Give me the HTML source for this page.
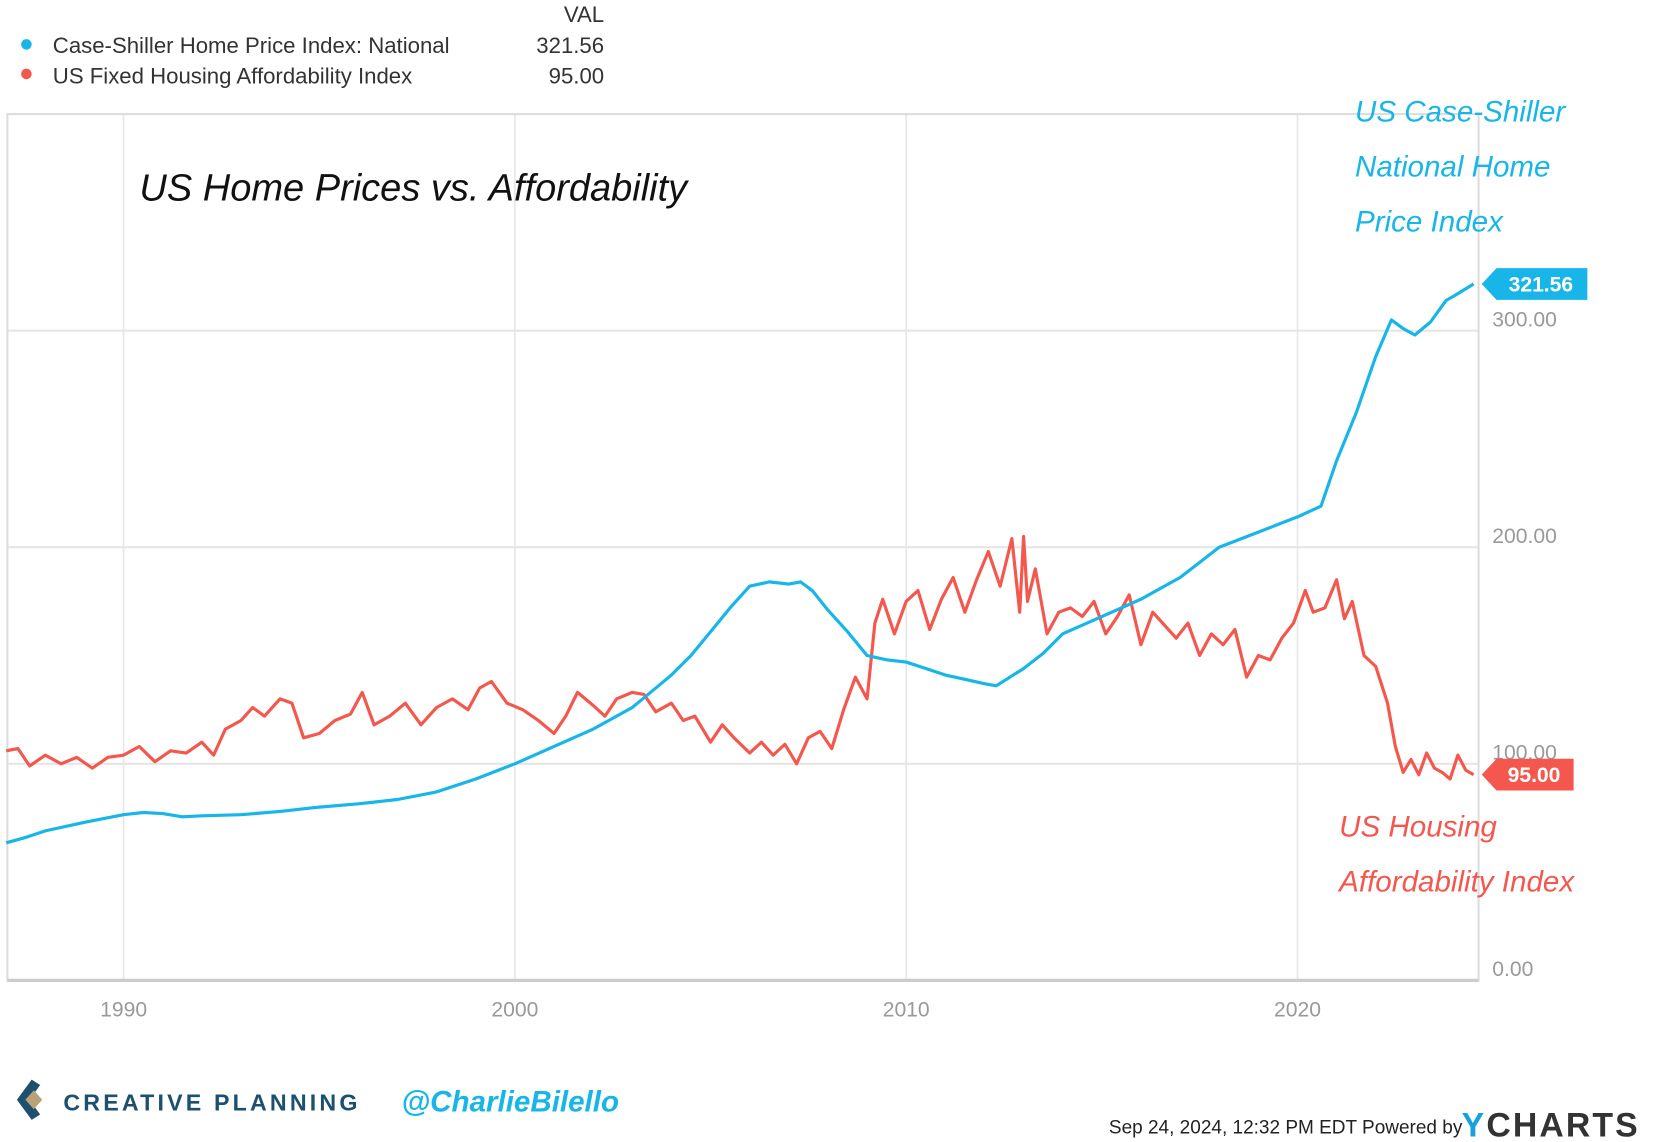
<!DOCTYPE html>
<html><head><meta charset="utf-8">
<style>
html,body{margin:0;padding:0;background:#fff;}
svg{display:block;}
.lg{font-family:"Liberation Sans Narrow","Liberation Sans",sans-serif;font-size:21px;fill:#333;}
.ax{font-family:"Liberation Sans Narrow","Liberation Sans",sans-serif;font-size:20px;fill:#999;}
.hand{font-family:"Liberation Sans",sans-serif;font-style:italic;}
</style></head>
<body>
<svg id="chart" width="1656" height="1142" viewBox="0 0 1568 1081" preserveAspectRatio="none" xmlns="http://www.w3.org/2000/svg">
<rect width="1568" height="1081" fill="#fff"/>
<g>
<text class="lg" x="572" y="21" text-anchor="end">VAL</text>
<circle cx="25" cy="42" r="5" fill="#17b5e8"/>
<text class="lg" x="50" y="50">Case-Shiller Home Price Index: National</text>
<text class="lg" x="572" y="50" text-anchor="end">321.56</text>
<circle cx="25" cy="70" r="5" fill="#f4574d"/>
<text class="lg" x="50" y="79">US Fixed Housing Affordability Index</text>
<text class="lg" x="572" y="79" text-anchor="end">95.00</text>
</g>
<g id="grid"></g>
<rect x="7" y="108" width="1393" height="820" fill="none" stroke="#ddd" stroke-width="2"/>
<line x1="7" y1="928" x2="1400" y2="928" stroke="#ccc" stroke-width="3"/>
<g id="axes"></g>
<g id="series"></g>
<text class="hand" x="132" y="190" font-size="36" fill="#111">US Home Prices vs. Affordability</text>
<g class="hand" font-size="28" fill="#17b5e8">
<text x="1283" y="115">US Case-Shiller</text>
<text x="1283" y="167">National Home</text>
<text x="1283" y="219">Price Index</text>
</g>
<g class="hand" font-size="28" fill="#f4574d">
<text x="1268" y="792">US Housing</text>
<text x="1268" y="844">Affordability Index</text>
</g>
<g>
<path d="M30 1022 L16 1041 L30 1060 L38 1055 L28 1041 L38 1027 Z" fill="#1d4f6e"/>
<path d="M32 1032 L40 1041 L32 1050 L24 1041 Z" fill="#b8a278"/>
<text x="60" y="1051" font-family="Liberation Sans,sans-serif" font-weight="bold" font-size="22" letter-spacing="3" fill="#1d4f6e">CREATIVE PLANNING</text>
<text x="380" y="1052" class="hand" font-weight="bold" font-size="28" fill="#17b5e8">@CharlieBilello</text>
<text x="1050" y="1073" font-family="Liberation Sans Narrow,Liberation Sans,sans-serif" font-size="18" fill="#222">Sep 24, 2024, 12:32 PM EDT Powered by</text>
<text x="1384" y="1076" font-family="Liberation Sans,sans-serif" font-weight="bold" font-size="32" fill="#333" letter-spacing="2"><tspan fill="#17a0e0">Y</tspan>CHARTS</text>
</g>
</svg>
<script>
const yTicks=[0,100,200,300];
const xYears=[1990,2000,2010,2020];
const csYears=[1987,1987.5,1988,1989,1990,1990.5,1991,1991.5,1992,1993,1994,1995,1996,1997,1998,1999,2000,2001,2002,2003,2004,2004.5,2005,2005.5,2006,2006.5,2007,2007.3,2007.6,2008,2008.5,2009,2009.5,2010,2010.5,2011,2011.5,2012,2012.3,2013,2013.5,2014,2015,2016,2017,2018,2019,2020,2020.6,2021,2021.5,2022,2022.4,2022.7,2023,2023.4,2023.8,2024,2024.5];
const csValues=[63.5,66,69,73,76.5,77.5,77,75.5,76,76.5,78,80,81.5,83.5,87,93,100,108,116,126,141,150,161,172,182,184,183,184,180,171,161,150,148,147,144,141,139,137,136,144,151,160,168,176,186,200,207,214,219,240,262,288,305,301,298,304,314,316,321.56];
const afYears=[1987,1987.3,1987.6,1988,1988.4,1988.8,1989.2,1989.6,1990,1990.4,1990.8,1991.2,1991.6,1992,1992.3,1992.6,1993,1993.3,1993.6,1994,1994.3,1994.6,1995,1995.4,1995.8,1996.1,1996.4,1996.8,1997.2,1997.6,1998,1998.4,1998.8,1999.1,1999.4,1999.8,2000.2,2000.6,2001,2001.3,2001.6,2002,2002.3,2002.6,2003,2003.3,2003.6,2004,2004.3,2004.6,2005,2005.3,2005.6,2006,2006.3,2006.6,2006.9,2007.2,2007.5,2007.8,2008.1,2008.4,2008.7,2009,2009.2,2009.4,2009.7,2010,2010.3,2010.6,2010.9,2011.2,2011.5,2011.8,2012.1,2012.4,2012.7,2012.9,2013,2013.1,2013.3,2013.6,2013.9,2014.2,2014.5,2014.8,2015.1,2015.4,2015.7,2016,2016.3,2016.6,2016.9,2017.2,2017.5,2017.8,2018.1,2018.4,2018.7,2019,2019.3,2019.6,2019.9,2020.2,2020.4,2020.7,2021,2021.2,2021.4,2021.7,2022,2022.3,2022.5,2022.7,2022.9,2023.1,2023.3,2023.5,2023.7,2023.9,2024.1,2024.3,2024.5];
const afValues=[106,107,99,104,100,103,98,103,104,108,101,106,105,110,104,116,120,126,122,130,128,112,114,120,123,133,118,122,128,118,126,130,125,135,138,128,125,120,114,122,133,127,122,130,133,132,124,128,120,122,110,118,112,105,110,104,109,100,112,115,107,125,140,130,165,176,160,175,180,162,176,186,170,185,198,182,204,170,205,175,190,160,170,172,168,175,160,168,178,155,170,164,158,165,150,160,155,162,140,150,148,158,165,180,170,172,185,167,175,150,145,128,108,96,102,95,105,98,96,93,104,97,95];
const X=t=>7+(t-1987.03)*37.05;
const Y=v=>928-2.05*v;
const NS='http://www.w3.org/2000/svg';
function mk(tag,attrs,parent){const e=document.createElementNS(NS,tag);for(const k in attrs)e.setAttribute(k,attrs[k]);parent.appendChild(e);return e;}
const grid=document.getElementById('grid'),axes=document.getElementById('axes'),series=document.getElementById('series');
yTicks.forEach(v=>{
  if(v>0){const l=mk('line',{x1:7,x2:1400,y1:Y(v),y2:Y(v),stroke:'#e6e6e6','stroke-width':2},grid);
  
  }
  const t=mk('text',{x:1413,y:Y(v)-4,class:'ax'},axes);t.textContent=v.toFixed(2);
  
  
});
xYears.forEach(yr=>{
  const l=mk('line',{x1:X(yr),x2:X(yr),y1:108,y2:928,stroke:'#e6e6e6','stroke-width':1.5},grid);
  
  
  const t=mk('text',{x:X(yr),y:962,class:'ax','text-anchor':'middle'},axes);t.textContent=yr;
  
  
});
function line(xs,vs,color,name){
  const d=xs.map((t,i)=>(i?'L':'M')+X(t).toFixed(1)+' '+Y(vs[i]).toFixed(1)).join(' ');
  const p=mk('path',{d:d,fill:'none',stroke:color,'stroke-width':3,'stroke-linejoin':'round'},series);
  
  
}
line(afYears,afValues,'#f4574d','affordability-line');
line(csYears,csValues,'#17b5e8','case-shiller-line');
function tag(v,w,color,name){
  const y=Y(v),x=1403;
  const p=mk('path',{d:`M${x} ${y} L${x+14} ${y-15} L${x+w} ${y-15} L${x+w} ${y+15} L${x+14} ${y+15} Z`,fill:color},series);
  
  
  const t=mk('text',{x:x+w/2+6,y:y+7,'text-anchor':'middle','font-family':'Liberation Sans,sans-serif','font-weight':'bold','font-size':20,fill:'#fff'},series);
  t.textContent=v.toFixed(2);
  
  
}
tag(csValues[csValues.length-1],100,'#17b5e8','case-shiller-last-value-tag');
tag(afValues[afValues.length-1],87,'#f4574d','affordability-last-value-tag');
</script>
</body></html>
